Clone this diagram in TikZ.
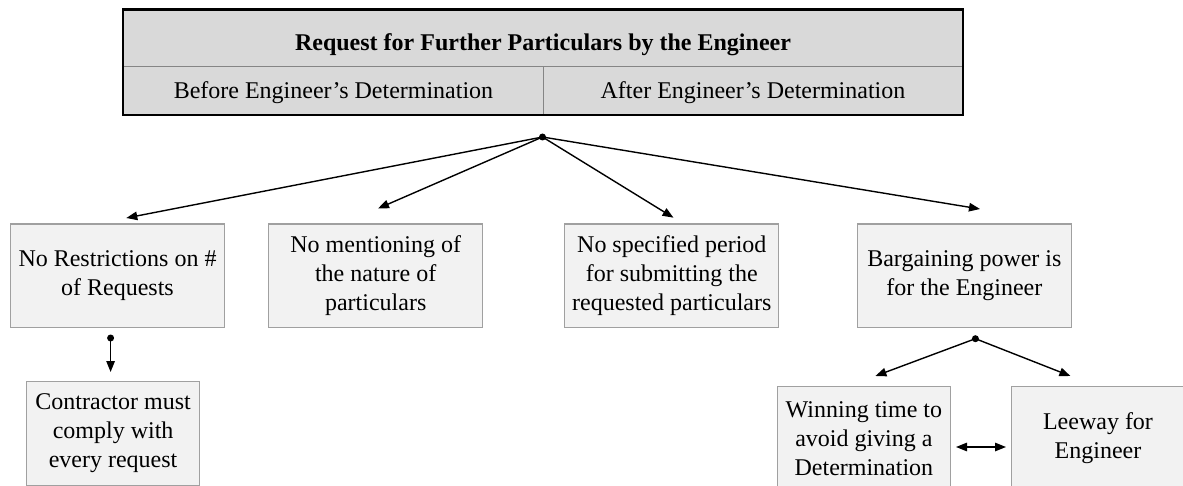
\documentclass[tikz,border=0pt]{standalone}
\usepackage{fontspec}
\setmainfont{Liberation Serif}
\usetikzlibrary{arrows.meta}
\definecolor{tablefill}{HTML}{D9D9D9}
\definecolor{boxfill}{HTML}{F2F2F2}
\definecolor{boxline}{HTML}{A0A0A0}
\definecolor{ruleline}{HTML}{858585}

\begin{document}
\begin{tikzpicture}[x=1pt,y=-1pt,
  every node/.style={font=\fontsize{24}{29}\selectfont},
  cell/.style={fill=tablefill, draw=ruleline, line width=1pt, inner sep=0pt, anchor=north west},
  item/.style={draw=boxline, fill=boxfill, line width=1.2pt, align=center, inner sep=2pt, minimum height=103.5pt},
  wide/.style={item, minimum width=214pt},
  narrow/.style={item, minimum width=173pt},
  tip/.style={Triangle[length=11pt,width=8.5pt]},
  link/.style={line width=1.4pt, -{Triangle[length=11pt,width=8.5pt]}},
  hub/.style={circle, fill=black, inner sep=0pt, minimum size=7pt},
]
\useasboundingbox (0,0) rectangle (1183,486);

% heading table
\node[cell, minimum width=839pt, minimum height=56.7pt, text height=24.7pt, text depth=0pt]
  (title) at (123,9.3) {\textbf{Request for Further Particulars by the Engineer}};
\node[cell, minimum width=420pt, minimum height=48pt, text height=16pt, text depth=0pt]
  (before) at (123,66) {Before Engineer's Determination};
\node[cell, minimum width=419pt, minimum height=48pt, text height=16pt, text depth=0pt]
  (after) at (543,66) {After Engineer's Determination};
\draw[line width=2.5pt] (title.north west) rectangle (after.south east);

% first row of consequences
\node[wide] (restrict) at (117.5,275.8) {No Restrictions on \#\\of Requests};
\node[wide] (nature) at (375.7,275.8) {No mentioning of\\the nature of\\particulars};
\node[wide] (period) at (671.8,275.8) {No specified period\\for submitting the\\requested particulars};
\node[wide] (power) at (964.4,275.8) {Bargaining power is\\for the Engineer};

% second row
\node[narrow] (comply) at (113.1,433.5) {Contractor must\\comply with\\every request};
\node[narrow] (winning) at (863.9,438.5) {Winning time to\\avoid giving a\\Determination};
\node[narrow] (leeway) at (1098,438.5) {Leeway for\\Engineer};

% branching points
\node[hub] (root) at (542.5,137) {};
\node[hub] (hubA) at (110.6,338) {};
\node[hub] (hubB) at (975.4,338.7) {};

% arrow ends
\coordinate (tipRestrict) at (126.3,218);
\coordinate (tipNature) at (378,208.5);
\coordinate (tipPeriod) at (673.5,217.7);
\coordinate (tipPower) at (980,209);
\coordinate (tipComply) at (110.6,372);
\coordinate (tipWinning) at (875.4,376);
\coordinate (tipLeeway) at (1070.4,376);
\coordinate (pairL) at (956,447);
\coordinate (pairR) at (1006,447);

\draw[link] (root.center) -- (tipRestrict);
\draw[link] (root.center) -- (tipNature);
\draw[link] (root.center) -- (tipPeriod);
\draw[link] (root.center) -- (tipPower);
\draw[link] (hubA.center) -- (tipComply);
\draw[link] (hubB.center) -- (tipWinning);
\draw[link] (hubB.center) -- (tipLeeway);
\draw[line width=1.4pt, {Triangle[length=11pt,width=8.5pt]}-{Triangle[length=11pt,width=8.5pt]}] (pairL) -- (pairR);
\end{tikzpicture}
\end{document}
